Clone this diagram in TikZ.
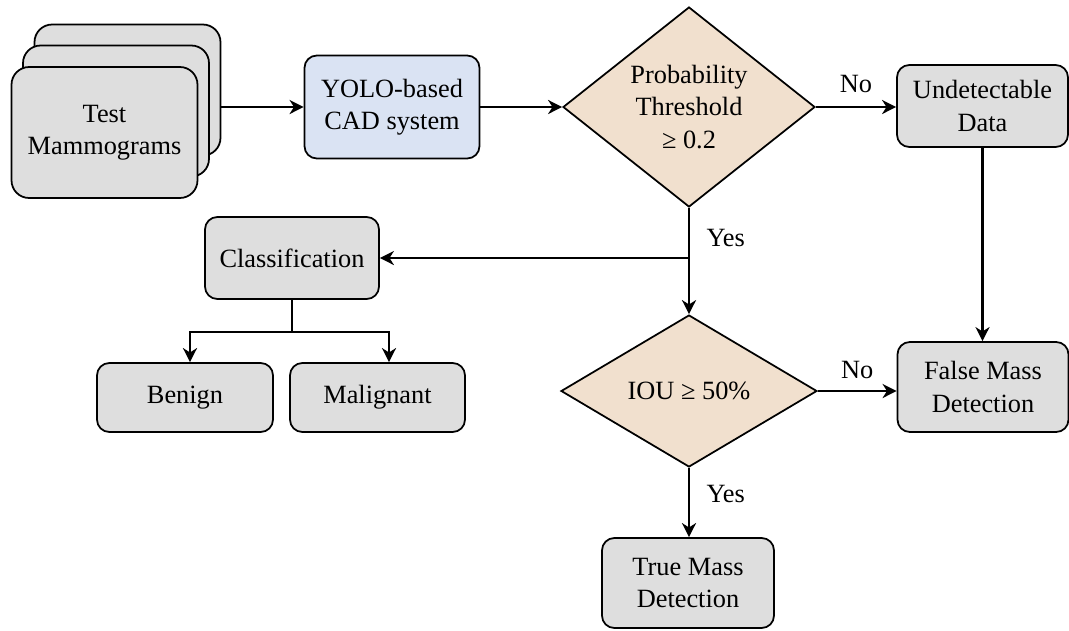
\documentclass[tikz,border=0pt]{standalone}
\usepackage{fontspec}
\setmainfont{Liberation Serif}
\usetikzlibrary{shapes.geometric,arrows.meta,calc}
\definecolor{boxgray}{RGB}{222,222,222}
\definecolor{cadblue}{RGB}{218,227,243}
\definecolor{decisiontan}{RGB}{241,224,206}

\begin{document}
\begin{tikzpicture}[x=0.02cm,y=-0.02cm,
    font=\fontsize{15}{18.5}\selectfont,
    box/.style={draw, line width=1pt, fill=boxgray, rounded corners=7pt, align=center, inner sep=0pt},
    docbox/.style={box, rounded corners=10pt, minimum width=3.72cm, minimum height=2.62cm},
    decision/.style={draw, line width=1pt, fill=decisiontan, shape=diamond, align=center, inner sep=0pt},
    flow/.style={line width=1.3pt, -{Stealth[length=8pt,width=8pt,inset=2.5pt]}}]
    \useasboundingbox (0,0) rectangle (1069,630);

    % input stack
    \node[docbox] (docb) at (127.5,90)  {};
    \node[docbox] (docm) at (116,111)   {};
    \node[docbox] (docf) at (104.5,132.5) {Test\\Mammograms};

    % main line
    \node[box, fill=cadblue, minimum width=3.5cm, minimum height=2.06cm] (yolo) at (392,107) {YOLO-based\\CAD system};
    \node[decision, aspect=1.26, minimum width=5.04cm, minimum height=4cm] (thr) at (689,107) {Probability\\Threshold\\≥ 0.2};
    \node[box, minimum width=3.42cm, minimum height=1.64cm] (undet) at (982.5,106) {Undetectable\\Data};

    % second line
    \node[decision, aspect=1.68, minimum width=5.12cm, minimum height=3.04cm] (iou) at (689,391) {IOU ≥ 50\%};
    \node[box, minimum width=3.42cm, minimum height=1.8cm] (false) at (983,387) {False Mass\\Detection};
    \node[box, minimum width=3.44cm, minimum height=1.8cm] (true) at (688,583) {True Mass\\Detection};

    % classification
    \node[box, minimum width=3.48cm, minimum height=1.64cm] (cls) at (292,258) {Classification};
    \node[box, minimum width=3.52cm, minimum height=1.38cm] (benign) at (185,397.5) {Benign};
    \node[box, minimum width=3.5cm, minimum height=1.38cm] (malig) at (377.5,397.5) {Malignant};

    \draw[flow] (docb.east |- yolo.west) -- (yolo.west);
    \draw[flow] (yolo.east) -- (thr.west);
    \draw[flow] (thr.east) -- node[above=4pt] {No} (thr.east -| undet.west);
    \draw[flow] (undet.south) -- (undet.south |- false.north);
    \draw[flow] (thr.south) -- node[pos=0.28, right=6pt] {Yes} (thr.south |- iou.north);
    \draw[flow] (thr.south |- cls.east) -- (cls.east);
    \draw[flow] (iou.east) -- node[above=3pt] {No} (iou.east -| false.west);
    \draw[flow] (iou.south) -- node[pos=0.37, right=6pt] {Yes} (iou.south |- true.north);

    \draw[line width=1.1pt] (cls.south) -- ++(0,32) coordinate (split);
    \draw[flow] (split) -| ($(benign.north)+(5,0)$);
    \draw[flow] (split) -| ($(malig.north)+(11.5,0)$);
\end{tikzpicture}
\end{document}
